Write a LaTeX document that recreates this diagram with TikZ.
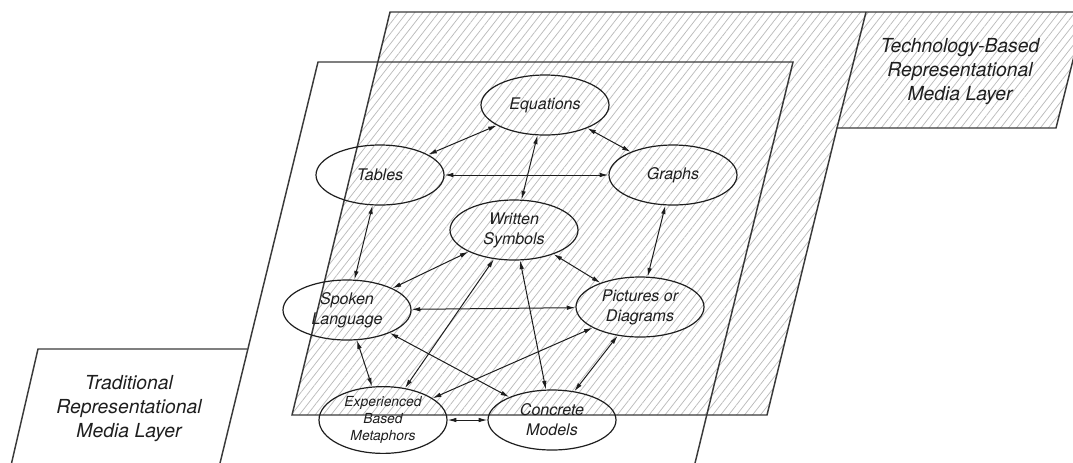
\documentclass[tikz,border=0pt]{standalone}
\usepackage{fontspec}
\setmainfont{TeX Gyre Heros}
\usepackage{tikz}
\usetikzlibrary{arrows.meta,shapes.geometric,patterns.meta}
\definecolor{FrameGray}{HTML}{3A3A3A}
\definecolor{HatchGray}{HTML}{BBBBBB}
\definecolor{InkBlack}{HTML}{1E1E1E}
\begin{document}
\begin{tikzpicture}[x=0.75pt,y=-0.75pt,>={Latex[length=6.5pt,width=3.4pt]},
  medium/.style={draw=InkBlack,line width=0.9pt,ellipse,minimum width=96pt,minimum height=45pt,inner sep=0pt,align=center,text=InkBlack,font=\fontsize{12}{15}\selectfont\itshape},
  layerlabel/.style={align=center,text=InkBlack,font=\fontsize{14.5}{18}\selectfont\itshape},
  link/.style={<->,line width=0.75pt,InkBlack},
  frame/.style={FrameGray,line width=1.1pt}]
\clip (0,0) rectangle (1073,462);
\fill[pattern={Lines[angle=52,distance=4.7pt,line width=0.55pt]},pattern color=HatchGray] (390,12) -- (1085,12) -- (1056,128) -- (837,128) -- (767,415) -- (292,415) -- cycle;
\draw[frame] (390,12) -- (1085,12) -- (1056,128) -- (837,128) -- (767,415) -- (292,415) -- cycle;
\draw[frame] (837,128) -- (866,12);
\draw[frame] (211,500) -- (318,62) -- (793,62) -- (686,500);
\draw[frame] (247,349) -- (38,349) -- (3,500);
\node[layerlabel] (tech) at (960,72) {Technology-Based\\Representational\\Media Layer};
\node[layerlabel] (trad) at (129,409) {Traditional\\Representational\\Media Layer};
\node[medium] (eq) at (545,105) {Equations};
\node[medium] (tab) at (380,175) {Tables};
\node[medium] (gra) at (673,175) {Graphs};
\node[medium] (wri) at (514,230) {Written\\Symbols};
\node[medium] (spo) at (347,310) {Spoken\\Language};
\node[medium] (pic) at (640,307) {Pictures or\\Diagrams};
\node[medium,font=\fontsize{10.4}{12.8}\selectfont\itshape] (exp) at (383,420) {Experienced\\Based\\Metaphors};
\node[medium] (con) at (552,420) {Concrete\\Models};
\draw[link] (eq) -- (tab);
\draw[link] (eq) -- (gra);
\draw[link] (eq) -- (wri);
\draw[link] (tab) -- (gra);
\draw[link] (tab) -- (spo);
\draw[link] (gra) -- (pic);
\draw[link] (wri) -- (spo);
\draw[link] (wri) -- (pic);
\draw[link] (spo) -- (pic);
\draw[link] (spo) -- (exp);
\draw[link] (spo) -- (con);
\draw[link] (wri) -- (exp);
\draw[link] (wri) -- (con);
\draw[link] (pic) -- (exp);
\draw[link] (pic) -- (con);
\draw[link] (exp) -- (con);
\end{tikzpicture}
\end{document}
